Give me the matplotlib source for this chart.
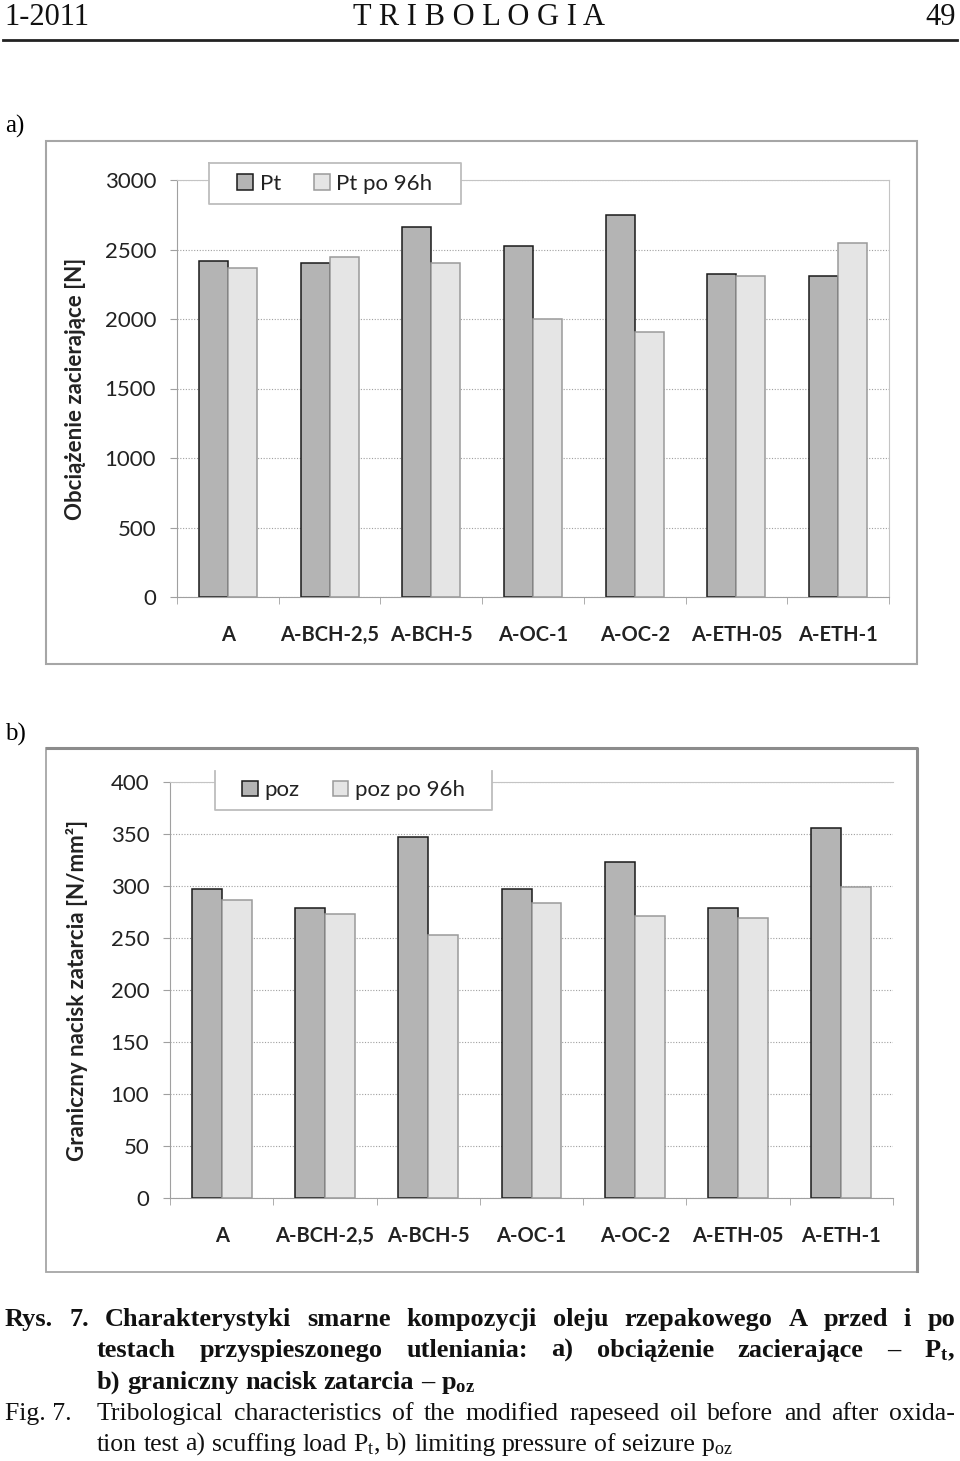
"""
Rys. 7 – charakterystyki smarne (Pt i poz) przed i po utlenianiu, dwa wykresy słupkowe na stronie.
"""
import matplotlib
matplotlib.use("Agg")
import matplotlib.pyplot as plt
from matplotlib.patches import Rectangle
from matplotlib.lines import Line2D
import numpy as np

# ── dane ────────────────────────────────────────────────
categories = ["A", "A-BCH-2,5", "A-BCH-5", "A-OC-1", "A-OC-2", "A-ETH-05", "A-ETH-1"]
pt = [2415, 2400, 2665, 2525, 2745, 2325, 2310]
pt_96h = [2370, 2445, 2400, 2000, 1905, 2310, 2545]
poz = [297, 279, 347, 297, 323, 279, 356]
poz_96h = [287, 273, 253, 284, 271, 269, 299]

# ── ustawienia strony ───────────────────────────────────
W, H = 960, 1461
DARK, LIGHT = "#b4b4b4", "#e5e5e5"
GRAY = "#a0a0a0"
TXT = "#222222"
CHART_FONT = "Lato"
SERIF = "Liberation Serif"

plt.rcParams["mathtext.fontset"] = "custom"
plt.rcParams["mathtext.rm"] = SERIF
plt.rcParams["mathtext.bf"] = SERIF + ":bold"
plt.rcParams["mathtext.it"] = SERIF + ":italic"


def fx(px):
    return px / W


def fy(py):
    return 1 - py / H


def draw_chart(fig, area, s1, s2, labels, ymax, step, ylabel, ylabel_x,
               bar_w, leg_box, open_top, right_spine):
    x0, y0, x1, y1 = area          # piksele: lewo, góra, prawo, dół
    ax = fig.add_axes([fx(x0), fy(y1), (x1 - x0) / W, (y1 - y0) / H])
    x = np.arange(len(categories))
    b1 = ax.bar(x - bar_w / 2, s1, bar_w, color=DARK, edgecolor="#1a1a1a", linewidth=1.1)
    b2 = ax.bar(x + bar_w / 2, s2, bar_w, color=LIGHT, edgecolor="#9a9a9a", linewidth=1.1)

    ax.set_xlim(-0.5, len(categories) - 0.5)
    ax.set_ylim(0, ymax)
    ax.set_yticks(np.arange(0, ymax + 1, step))
    ax.set_axisbelow(True)
    ax.yaxis.grid(True, linestyle=(0, (1, 1.5)), color=GRAY, linewidth=0.8)

    for side in ["left", "bottom"]:
        ax.spines[side].set_color(GRAY)
    ax.spines["top"].set_color("#c4c4c4")
    ax.spines["right"].set_color("#c4c4c4")
    ax.spines["right"].set_visible(right_spine)

    ax.tick_params(axis="y", length=5, color=GRAY, pad=10,
                   labelsize=16, labelcolor=TXT)
    for t in ax.get_yticklabels():
        t.set_family(CHART_FONT)

    ax.set_xticks(x)
    ax.set_xticklabels(categories, family=CHART_FONT, fontweight="bold",
                       fontsize=14.5, color=TXT)
    ax.tick_params(axis="x", which="major", length=0, pad=20)
    ax.set_xticks(np.arange(-0.5, len(categories), 1), minor=True)
    ax.tick_params(axis="x", which="minor", length=5, color=GRAY)

    ax.set_ylabel(ylabel, family=CHART_FONT, fontweight="bold", fontsize=16, color=TXT)
    ax.yaxis.set_label_coords(ylabel_x, 0.5)

    # ramka legendy rysowana osobno (jak w Excelu – duży margines)
    lx0, ly0, lx1, ly1 = leg_box
    to_ax = lambda px, py: ((px - x0) / (x1 - x0), (y1 - py) / (y1 - y0))
    (ax0, ay1), (ax1, ay0) = to_ax(lx0, ly0), to_ax(lx1, ly1)
    ax.add_patch(Rectangle((ax0, ay0), ax1 - ax0, ay1 - ay0, transform=ax.transAxes,
                           facecolor="white", edgecolor="none", clip_on=False, zorder=4))
    if open_top:
        xs, ys = [ax0, ax0, ax1, ax1], [ay1, ay0, ay0, ay1]
    else:
        xs, ys = [ax0, ax0, ax1, ax1, ax0], [ay1, ay0, ay0, ay1, ay1]
    ax.add_line(Line2D(xs, ys, transform=ax.transAxes, color="#bdbdbd", lw=1.3,
                       clip_on=False, zorder=4.5))

    leg = ax.legend([b1, b2], labels, loc="center",
                    bbox_to_anchor=((ax0 + ax1) / 2, (ay0 + ay1) / 2), ncol=2,
                    frameon=False, handlelength=0.7, handleheight=0.7,
                    handletextpad=0.3, columnspacing=1.5,
                    prop={"family": CHART_FONT, "size": 16})
    leg.set_zorder(5)
    for t in leg.get_texts():
        t.set_color(TXT)
    return ax


def text_line(fig, r, words, x0, y, x1=None, **kw):
    """Słowa w jednej linii; z x1 – wyjustowane do prawego marginesu."""
    texts = [fig.text(fx(x0), fy(y), w, va="baseline", ha="left", **kw) for w in words]
    widths = [t.get_window_extent(r).width for t in texts]
    if x1 is None or len(words) < 2:
        gap = 0.25 * kw.get("fontsize", 17) * 100 / 72
    else:
        gap = (x1 - x0 - sum(widths)) / (len(words) - 1)
    x = x0
    for t, w in zip(texts, widths):
        t.set_x(fx(x))
        x += w + gap


fig = plt.figure(figsize=(W / 100, H / 100), dpi=100)
fig.patch.set_facecolor("white")
r = fig.canvas.get_renderer()

# ── nagłówek strony ─────────────────────────────────────
head = dict(family=SERIF, fontsize=22, color="#111111", va="baseline")
fig.text(fx(4), fy(25), "1-2011", ha="left", **head)
fig.text(fx(479), fy(25), "T R I B O L O G I A", ha="center", **head)
fig.text(fx(956), fy(25), "49", ha="right", **head)
fig.add_artist(Line2D([fx(3), fx(957)], [fy(40), fy(40)], color="#222222", lw=2))

fig.text(fx(5), fy(133), "a)", family=SERIF, fontsize=18, va="baseline")
fig.text(fx(5), fy(741), "b)", family=SERIF, fontsize=18, va="baseline")

# ── ramki wykresów ──────────────────────────────────────
fig.add_artist(Rectangle((fx(46), fy(664)), (917 - 46) / W, (664 - 141) / H,
                         transform=fig.transFigure, fill=False, edgecolor="#a6a6a6", lw=1.5))
fig.add_artist(Rectangle((fx(46), fy(1272)), (917 - 46) / W, (1272 - 748) / H,
                         transform=fig.transFigure, fill=False, edgecolor="#a6a6a6", lw=1.3))
fig.add_artist(Line2D([fx(47), fx(917), fx(917)], [fy(748), fy(748), fy(1271)],
                      color="#8c8c8c", lw=2.2))

# ── wykres a) ───────────────────────────────────────────
draw_chart(fig, (177, 180, 889, 597), pt, pt_96h, ["Pt", "Pt po 96h"],
           3000, 500, "Obciążenie zacierające [N]", -0.128, 0.285,
           (209, 163, 461, 204), open_top=False, right_spine=True)

# ── wykres b) ───────────────────────────────────────────
draw_chart(fig, (170, 782, 893, 1198), poz, poz_96h, ["poz", "poz po 96h"],
           400, 50, "Graniczny nacisk zatarcia [N/mm²]", -0.113, 0.29,
           (215, 771, 492, 810), open_top=True, right_spine=False)

# ── podpis ──────────────────────────────────────────────
bold = dict(family=SERIF, fontsize=19, fontweight="bold", color="#111111")
reg = dict(family=SERIF, fontsize=18.5, color="#111111")

text_line(fig, r, "Rys. 7. Charakterystyki smarne kompozycji oleju rzepakowego A przed i po".split(),
          5, 1326, 955, **bold)
text_line(fig, r, "testach przyspieszonego utleniania: a) obciążenie zacierające –".split()
          + [r"$\mathbf{P}_\mathbf{t}$,"], 97, 1357, 955, **bold)
text_line(fig, r, "b) graniczny nacisk zatarcia –".split() + [r"$\mathbf{p}_\mathbf{oz}$"],
          97, 1389, **bold)
fig.text(fx(5), fy(1420), "Fig. 7.", va="baseline", ha="left", **reg)
text_line(fig, r, "Tribological characteristics of the modified rapeseed oil before and after oxida-".split(),
          97, 1420, 955, **reg)
text_line(fig, r, "tion test a) scuffing load".split() + [r"$\mathrm{P}_\mathrm{t}$,"]
          + "b) limiting pressure of seizure".split() + [r"$\mathrm{p}_\mathrm{oz}$"],
          97, 1451, **reg)

fig.savefig("out.png", dpi=100, facecolor="white")
plt.close(fig)
